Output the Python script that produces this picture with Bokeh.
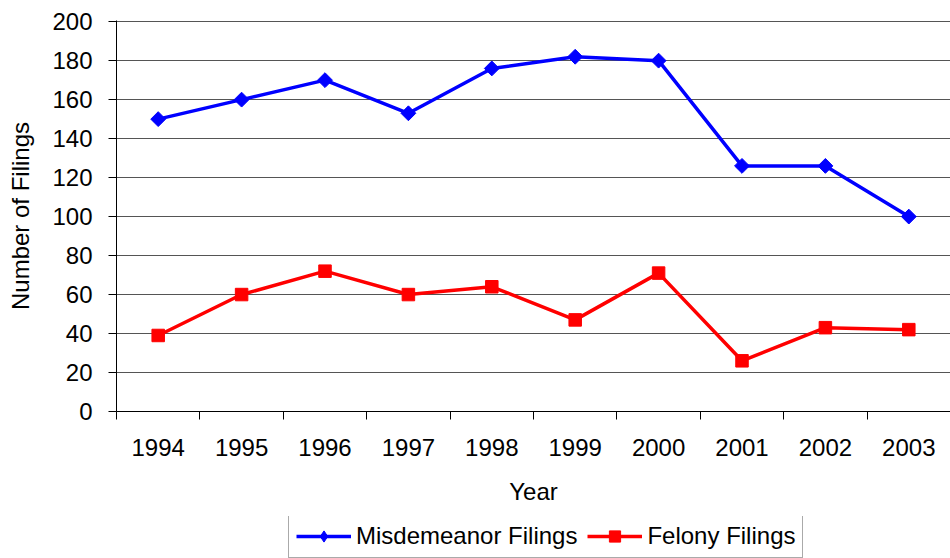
import math
from bokeh.plotting import figure
from bokeh.layouts import column
from bokeh.models import FixedTicker, Range1d, Legend, LegendItem
from bokeh.embed import file_html
from bokeh.resources import INLINE

years = [1994, 1995, 1996, 1997, 1998, 1999, 2000, 2001, 2002, 2003]
year_labels = [str(y) for y in years]
misdemeanor = [150, 160, 170, 153, 176, 182, 180, 126, 126, 100]
felony = [39, 60, 72, 60, 64, 47, 71, 26, 43, 42]
y_ticks = [0, 20, 40, 60, 80, 100, 120, 140, 160, 180, 200]
series_names = ["Misdemeanor Filings", "Felony Filings"]

FONT = "Liberation Sans"
FS = "24px"
BLUE = "#0000FF"
RED = "#FF0000"

p = figure(width=950, height=516, output_backend="svg", toolbar_location=None,
           x_range=Range1d(years[0] - 0.5, years[-1] + 0.5),
           y_range=Range1d(0, 200.6),
           min_border_left=116, min_border_top=20, min_border_right=0,
           min_border_bottom=105)
p.outline_line_color = None
p.background_fill_color = "white"
p.border_fill_color = "white"

# grid
p.xgrid.grid_line_color = None
p.ygrid.grid_line_color = "#555555"
p.ygrid.grid_line_width = 1
p.ygrid.ticker = FixedTicker(ticks=y_ticks)

# y axis
p.yaxis.ticker = FixedTicker(ticks=y_ticks)
p.yaxis.axis_line_color = "black"
p.yaxis.major_tick_line_color = "black"
p.yaxis.major_tick_out = 8
p.yaxis.major_tick_in = 0
p.yaxis.minor_tick_line_color = None
p.yaxis.major_label_standoff = 16
p.yaxis.major_label_text_font = FONT
p.yaxis.major_label_text_font_size = FS
p.yaxis.major_label_text_color = "black"
p.yaxis.axis_label = "Number of Filings"
p.yaxis.axis_label_text_font = FONT
p.yaxis.axis_label_text_font_size = FS
p.yaxis.axis_label_text_font_style = "normal"
p.yaxis.axis_label_text_color = "black"
p.yaxis.axis_label_standoff = 15

# x axis: labels at year centers, tick marks between years
bounds = [y - 0.5 for y in years] + [years[-1] + 0.5]
p.xaxis.ticker = FixedTicker(ticks=years, minor_ticks=bounds)
p.xaxis.major_label_overrides = {y: s for y, s in zip(years, year_labels)}
p.xaxis.axis_line_color = "black"
p.xaxis.major_tick_line_color = None
p.xaxis.major_tick_out = 0
p.xaxis.major_tick_in = 0
p.xaxis.minor_tick_line_color = "black"
p.xaxis.minor_tick_out = 8
p.xaxis.minor_tick_in = 0
p.xaxis.major_label_standoff = 19
p.xaxis.major_label_text_font = FONT
p.xaxis.major_label_text_font_size = FS
p.xaxis.major_label_text_color = "black"
p.xaxis.axis_label = "Year"
p.xaxis.axis_label_text_font = FONT
p.xaxis.axis_label_text_font_size = FS
p.xaxis.axis_label_text_font_style = "normal"
p.xaxis.axis_label_text_color = "black"
p.xaxis.axis_label_standoff = 19

# series
p.line(years, misdemeanor, line_color=BLUE, line_width=3.5)
p.scatter(years, misdemeanor, marker="square", angle=math.pi / 4, size=10.5,
          fill_color=BLUE, line_color=BLUE)
p.line(years, felony, line_color=RED, line_width=3.5)
p.scatter(years, felony, marker="square", size=12.5, fill_color=RED, line_color=RED)

# legend strip below the chart (hidden copies of the series supply the legend glyphs)
lg = figure(width=950, height=42, output_backend="svg", toolbar_location=None,
            x_axis_type=None, y_axis_type=None,
            min_border_left=0, min_border_right=0, min_border_top=0, min_border_bottom=0)
lg.outline_line_color = None
lg.grid.visible = False
lg.border_fill_color = "white"
lg.background_fill_color = "white"
k1 = lg.line(years, misdemeanor, line_color=BLUE, line_width=3.5, visible=False)
k1d = lg.scatter(years, misdemeanor, marker="diamond", size=13,
                 fill_color=BLUE, line_color=BLUE, visible=False)
k2 = lg.line(years, felony, line_color=RED, line_width=3.5, visible=False)
k2d = lg.scatter(years, felony, marker="square", size=9, fill_color=RED,
                 line_color=RED, visible=False)

legend = Legend(items=[LegendItem(label=series_names[0], renderers=[k1, k1d]),
                       LegendItem(label=series_names[1], renderers=[k2, k2d])],
                orientation="horizontal", location=(172, 0))
legend.label_text_font = FONT
legend.label_text_font_size = FS
legend.label_text_color = "black"
legend.glyph_width = 55
legend.glyph_height = 28
legend.label_standoff = 5
legend.spacing = 10
legend.padding = 7
legend.margin = 0
legend.border_line_color = "#555555"
legend.border_line_width = 1
legend.background_fill_color = "white"
legend.inactive_fill_alpha = 0
lg.add_layout(legend)

layout = column(p, lg, spacing=0)
open("out.html", "w").write(file_html(layout, INLINE))
